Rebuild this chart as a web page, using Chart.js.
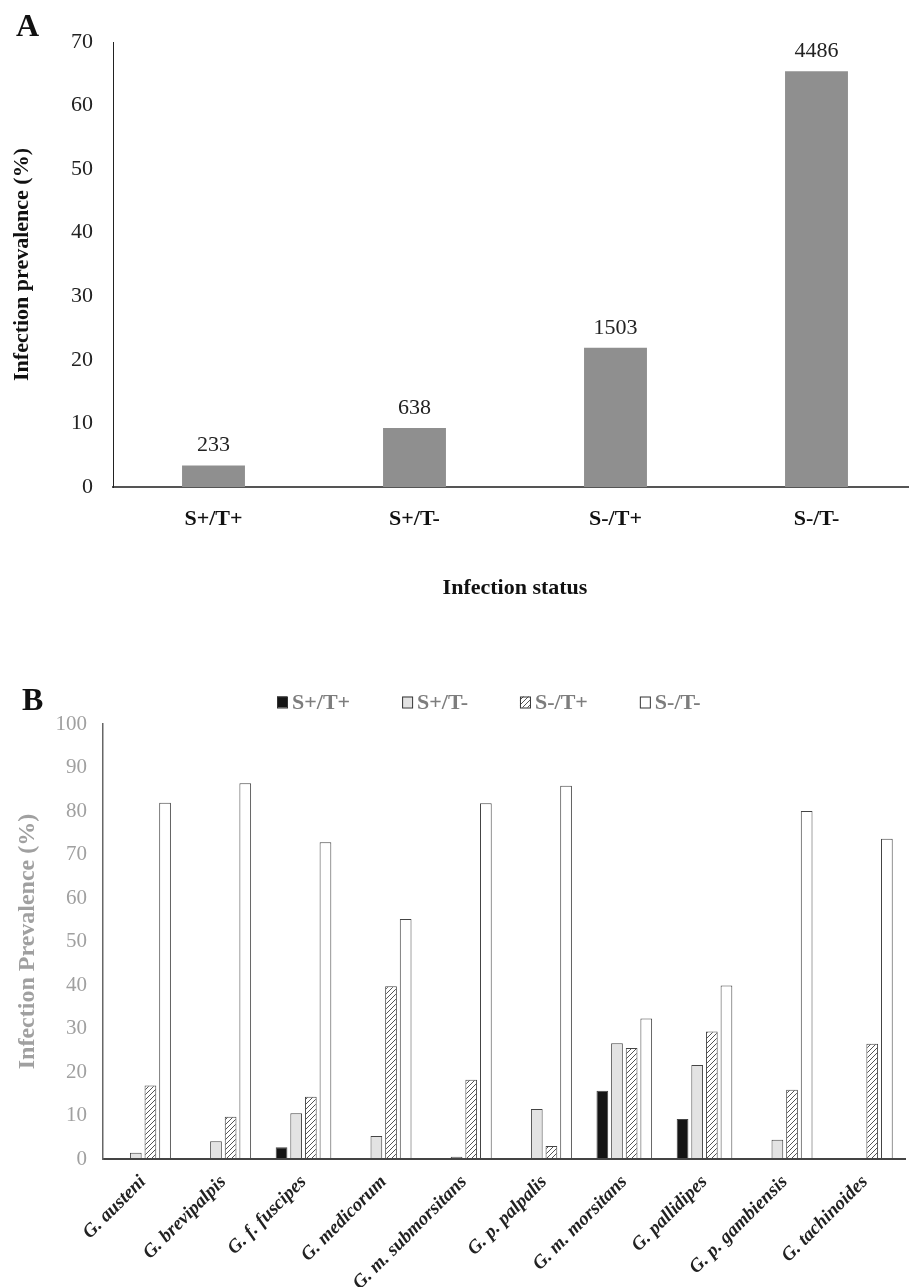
<!DOCTYPE html>
<html>
<head>
<meta charset="utf-8">
<script src="https://cdn.jsdelivr.net/npm/chart.js@4/dist/chart.umd.min.js"></script>
<style>
  html, body { margin: 0; padding: 0; background: #fff; overflow: hidden; }
  #page { position: relative; width: 909px; height: 1287px; overflow: hidden; background: #fff; }
  #page canvas { position: absolute; }
  .tag { position: absolute; font: bold 32px/32px "Liberation Serif", serif; color: #111; }
</style>
</head>
<body>
<div id="page">
  <canvas id="chartA" width="920" height="620" style="left:0;top:0"></canvas>
  <canvas id="chartB" width="909" height="647" style="left:0;top:640px"></canvas>
  <div class="tag" style="left:16px;top:9px">A</div>
  <div class="tag" style="left:22px;top:683px">B</div>
</div>
<script>
// ---- Panel A: overall infection status ----
const statusLabels = ['S+/T+', 'S+/T-', 'S-/T+', 'S-/T-'];
const statusCounts = [233, 638, 1503, 4486];
const statusPrevalence = [3.4, 9.3, 21.9, 65.4];

// ---- Panel B: infection status by tsetse species ----
const speciesLabels = [
  'G. austeni', 'G. brevipalpis', 'G. f. fuscipes', 'G. medicorum', 'G. m. submorsitans',
  'G. p. palpalis', 'G. m. morsitans', 'G. pallidipes', 'G. p. gambiensis', 'G. tachinoides'
];
const seriesNames = ['S+/T+', 'S+/T-', 'S-/T+', 'S-/T-'];
const sPosTPos = [0, 0, 2.7, 0, 0, 0, 15.7, 9.2, 0, 0];
const sPosTNeg = [1.45, 4.1, 10.5, 5.3, 0.5, 11.5, 26.6, 21.6, 4.4, 0];
const sNegTPos = [16.9, 9.7, 14.3, 39.7, 18.2, 3.0, 25.5, 29.3, 15.9, 26.5];
const sNegTNeg = [81.9, 86.4, 72.8, 55.2, 81.8, 85.8, 32.3, 39.9, 80.0, 73.6];

const SERIF = '"Liberation Serif", "Times New Roman", serif';

// value labels (sample counts) above the bars of panel A
const countLabels = {
  id: 'countLabels',
  afterDatasetsDraw(chart) {
    const ctx = chart.ctx;
    const meta = chart.getDatasetMeta(0);
    ctx.save();
    ctx.font = '22px ' + SERIF;
    ctx.fillStyle = '#222';
    ctx.textAlign = 'center';
    ctx.textBaseline = 'middle';
    meta.data.forEach((bar, i) => ctx.fillText(String(statusCounts[i]), bar.x, bar.y - 20));
    ctx.restore();
  }
};

new Chart(document.getElementById('chartA'), {
  type: 'bar',
  data: {
    labels: statusLabels,
    datasets: [{
      data: statusPrevalence,
      backgroundColor: '#8f8f8f',
      barPercentage: 0.313,
      categoryPercentage: 1
    }]
  },
  options: {
    responsive: false,
    animation: false,
    devicePixelRatio: 1,
    layout: { padding: { top: 42, right: 3, left: 0, bottom: 0 } },
    plugins: { legend: { display: false }, tooltip: { enabled: false } },
    scales: {
      x: {
        grid: { display: false, drawTicks: false },
        border: { display: true, color: '#555', width: 2 },
        ticks: { font: { family: SERIF, size: 22, weight: 'bold' }, color: '#111', padding: 19 },
        title: {
          display: true, text: 'Infection status',
          font: { family: SERIF, size: 22, weight: 'bold' }, color: '#111',
          padding: { top: 0, bottom: 18 }
        },
        afterFit: s => { s.height = 133; }
      },
      y: {
        min: 0, max: 70,
        ticks: { stepSize: 10, font: { family: SERIF, size: 22 }, color: '#222', padding: 20 },
        grid: { display: false, drawTicks: false },
        border: { display: true, color: '#222', width: 1 },
        title: {
          display: true, text: 'Infection prevalence (%)',
          font: { family: SERIF, size: 22, weight: 'bold' }, color: '#111',
          padding: { top: 9, bottom: 0 }
        },
        afterFit: s => { s.width = 113; }
      }
    }
  },
  plugins: [countLabels]
});

// diagonal hatch fill for the S-/T+ series
const canvasB = document.getElementById('chartB');
function makeHatch(ctx) {
  const t = document.createElement('canvas');
  t.width = 5; t.height = 5;
  const g = t.getContext('2d');
  g.fillStyle = '#fff';
  g.fillRect(0, 0, 5, 5);
  g.strokeStyle = '#555';
  g.lineWidth = 1;
  g.beginPath();
  g.moveTo(-1, 6); g.lineTo(6, -1);
  g.moveTo(-1, 1); g.lineTo(1, -1);
  g.moveTo(4, 6); g.lineTo(6, 4);
  g.stroke();
  return ctx.createPattern(t, 'repeat');
}
const hatch = makeHatch(canvasB.getContext('2d'));
const fills = ['#151515', '#e3e3e3', hatch, '#ffffff'];
const seriesData = [sPosTPos, sPosTNeg, sNegTPos, sNegTNeg];

// legend row across the top of panel B
const speciesLegend = {
  id: 'speciesLegend',
  afterDraw(chart) {
    const ctx = chart.ctx;
    ctx.save();
    ctx.font = 'bold 22px ' + SERIF;
    ctx.textBaseline = 'middle';
    ctx.textAlign = 'left';
    let x = 277;
    const cy = 62;
    chart.data.datasets.forEach(ds => {
      ctx.fillStyle = ds.backgroundColor;
      ctx.fillRect(x, cy - 5.5, 10, 11);
      ctx.strokeStyle = '#333';
      ctx.lineWidth = 1;
      ctx.strokeRect(x + 0.5, cy - 5, 10, 11);
      ctx.fillStyle = '#7d7d7d';
      ctx.fillText(ds.label, x + 15, cy + 1);
      x += 15 + ctx.measureText(ds.label).width + 52;
    });
    ctx.restore();
  }
};

new Chart(canvasB, {
  type: 'bar',
  data: {
    labels: speciesLabels,
    datasets: seriesNames.map((name, i) => ({
      label: name,
      data: seriesData[i],
      backgroundColor: fills[i],
      borderColor: '#444',
      borderWidth: 1,
      borderSkipped: false,
      barPercentage: 0.8,
      categoryPercentage: 0.73
    }))
  },
  options: {
    responsive: false,
    animation: false,
    devicePixelRatio: 1,
    layout: { padding: { top: 84, right: 4, left: 0, bottom: 0 } },
    plugins: { legend: { display: false }, tooltip: { enabled: false } },
    scales: {
      x: {
        grid: { display: false, drawTicks: false },
        border: { display: true, color: '#444', width: 2 },
        ticks: {
          font: { family: SERIF, size: 19, weight: 'bold', style: 'italic' },
          color: '#222', maxRotation: 45, minRotation: 45, padding: 12, autoSkip: false
        },
        afterFit: s => { s.height = 128; }
      },
      y: {
        min: 0, max: 100,
        ticks: { stepSize: 10, font: { family: SERIF, size: 21 }, color: '#a0a0a0', padding: 16 },
        grid: { display: false, drawTicks: false },
        border: { display: true, color: '#666', width: 1.5 },
        title: {
          display: true, text: 'Infection Prevalence (%)',
          font: { family: SERIF, size: 24, weight: 'bold' }, color: '#a0a0a0',
          padding: { top: 13, bottom: 0 }
        },
        afterFit: s => { s.width = 103; }
      }
    }
  },
  plugins: [speciesLegend]
});
</script>
</body>
</html>
